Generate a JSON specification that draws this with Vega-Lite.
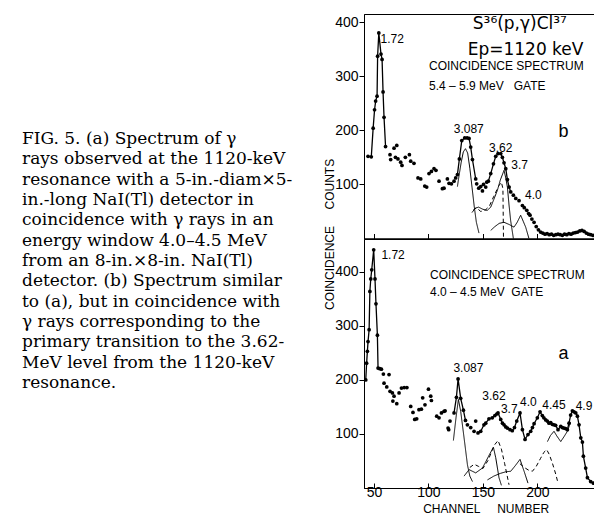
{
  "$schema": "https://vega.github.io/schema/vega-lite/v6.json",
  "padding": {"left": 22, "top": 13, "right": 0, "bottom": 0},
  "bounds": "flush",
  "spacing": 10,
  "background": "white",
  "config": {
    "view": {"stroke": "black", "strokeWidth": 1},
    "axis": {
      "grid": false,
      "domainColor": "black",
      "tickColor": "black",
      "labelColor": "black",
      "titleColor": "black",
      "labelFont": "Liberation Sans",
      "labelFontSize": 14,
      "titleFont": "Liberation Sans",
      "titleFontSize": 12,
      "titleFontWeight": "normal",
      "tickWidth": 1,
      "domainWidth": 1
    }
  },
  "datasets": {
    "caption": [
      {"line": 1, "text": "\u00a0\u00a0FIG. 5. (a) Spectrum of γ"},
      {"line": 2, "text": "rays observed at the 1120-keV"},
      {"line": 3, "text": "resonance with a 5-in.-diam×5-"},
      {"line": 4, "text": "in.-long NaI(Tl) detector in"},
      {"line": 5, "text": "coincidence with γ rays in an"},
      {"line": 6, "text": "energy window 4.0–4.5 MeV"},
      {"line": 7, "text": "from an 8-in.×8-in. NaI(Tl)"},
      {"line": 8, "text": "detector. (b) Spectrum similar"},
      {"line": 9, "text": "to (a), but in coincidence with"},
      {"line": 10, "text": "γ rays corresponding to the"},
      {"line": 11, "text": "primary transition to the 3.62-"},
      {"line": 12, "text": "MeV level from the 1120-keV"},
      {"line": 13, "text": "resonance."}
    ],
    "dots": [
      {"panel": "b", "seg": "p1", "ch": 44.5, "v": 152},
      {"panel": "b", "seg": "p1", "ch": 47.5, "v": 151},
      {"panel": "b", "seg": "p1", "ch": 49.2, "v": 204},
      {"panel": "b", "seg": "p1", "ch": 50.5, "v": 238},
      {"panel": "b", "seg": "p1", "ch": 51.5, "v": 254},
      {"panel": "b", "seg": "p1", "ch": 52.8, "v": 263},
      {"panel": "b", "seg": "p1", "ch": 53.3, "v": 337},
      {"panel": "b", "seg": "p1", "ch": 54.4, "v": 380},
      {"panel": "b", "seg": "p1", "ch": 56.4, "v": 341},
      {"panel": "b", "seg": "p1", "ch": 57.4, "v": 331},
      {"panel": "b", "seg": "p1", "ch": 58.3, "v": 271},
      {"panel": "b", "seg": "p1", "ch": 59.2, "v": 224},
      {"panel": "b", "seg": "p1", "ch": 60.6, "v": 170},
      {"panel": "b", "seg": "", "ch": 64.7, "v": 155},
      {"panel": "b", "seg": "", "ch": 65.3, "v": 146},
      {"panel": "b", "seg": "", "ch": 68.4, "v": 167},
      {"panel": "b", "seg": "", "ch": 69.7, "v": 150},
      {"panel": "b", "seg": "", "ch": 70.9, "v": 172},
      {"panel": "b", "seg": "", "ch": 72.0, "v": 147},
      {"panel": "b", "seg": "", "ch": 74.5, "v": 141},
      {"panel": "b", "seg": "", "ch": 75.7, "v": 135},
      {"panel": "b", "seg": "", "ch": 78.8, "v": 150},
      {"panel": "b", "seg": "", "ch": 82.5, "v": 155},
      {"panel": "b", "seg": "", "ch": 83.7, "v": 143},
      {"panel": "b", "seg": "", "ch": 86.7, "v": 139},
      {"panel": "b", "seg": "", "ch": 90.4, "v": 112},
      {"panel": "b", "seg": "", "ch": 92.9, "v": 110},
      {"panel": "b", "seg": "", "ch": 96.6, "v": 97},
      {"panel": "b", "seg": "", "ch": 98.4, "v": 95},
      {"panel": "b", "seg": "", "ch": 100.5, "v": 120},
      {"panel": "b", "seg": "", "ch": 102.7, "v": 124},
      {"panel": "b", "seg": "", "ch": 105.1, "v": 129},
      {"panel": "b", "seg": "", "ch": 106.9, "v": 126},
      {"panel": "b", "seg": "", "ch": 109.7, "v": 106},
      {"panel": "b", "seg": "", "ch": 112.8, "v": 92},
      {"panel": "b", "seg": "", "ch": 114.3, "v": 93},
      {"panel": "b", "seg": "", "ch": 117.4, "v": 110},
      {"panel": "b", "seg": "", "ch": 118.9, "v": 102},
      {"panel": "b", "seg": "", "ch": 121.1, "v": 101},
      {"panel": "b", "seg": "", "ch": 123.5, "v": 106},
      {"panel": "b", "seg": "", "ch": 125.0, "v": 112},
      {"panel": "b", "seg": "p2", "ch": 126.6, "v": 118},
      {"panel": "b", "seg": "p2", "ch": 128.4, "v": 147},
      {"panel": "b", "seg": "p2", "ch": 130.6, "v": 181},
      {"panel": "b", "seg": "p2", "ch": 133.3, "v": 186},
      {"panel": "b", "seg": "p2", "ch": 135.5, "v": 186},
      {"panel": "b", "seg": "p2", "ch": 137.3, "v": 185},
      {"panel": "b", "seg": "p2", "ch": 138.8, "v": 169},
      {"panel": "b", "seg": "p2", "ch": 140.4, "v": 146},
      {"panel": "b", "seg": "p2", "ch": 143.4, "v": 110},
      {"panel": "b", "seg": "", "ch": 144.3, "v": 101},
      {"panel": "b", "seg": "", "ch": 146.2, "v": 93},
      {"panel": "b", "seg": "", "ch": 148.0, "v": 96},
      {"panel": "b", "seg": "", "ch": 149.6, "v": 88},
      {"panel": "b", "seg": "", "ch": 150.5, "v": 100},
      {"panel": "b", "seg": "", "ch": 152.6, "v": 95},
      {"panel": "b", "seg": "", "ch": 153.5, "v": 104},
      {"panel": "b", "seg": "p3", "ch": 155.0, "v": 106},
      {"panel": "b", "seg": "p3", "ch": 157.2, "v": 120},
      {"panel": "b", "seg": "p3", "ch": 159.7, "v": 138},
      {"panel": "b", "seg": "p3", "ch": 161.8, "v": 152},
      {"panel": "b", "seg": "p3", "ch": 163.9, "v": 157},
      {"panel": "b", "seg": "p3", "ch": 166.4, "v": 157},
      {"panel": "b", "seg": "p3", "ch": 167.9, "v": 150},
      {"panel": "b", "seg": "p3", "ch": 169.4, "v": 140},
      {"panel": "b", "seg": "p3", "ch": 171.0, "v": 129},
      {"panel": "b", "seg": "p3", "ch": 172.5, "v": 109},
      {"panel": "b", "seg": "p3", "ch": 174.1, "v": 95},
      {"panel": "b", "seg": "p3", "ch": 175.6, "v": 86},
      {"panel": "b", "seg": "", "ch": 178.0, "v": 80},
      {"panel": "b", "seg": "", "ch": 180.2, "v": 74},
      {"panel": "b", "seg": "", "ch": 183.2, "v": 70},
      {"panel": "b", "seg": "", "ch": 186.3, "v": 61},
      {"panel": "b", "seg": "", "ch": 188.0, "v": 57},
      {"panel": "b", "seg": "", "ch": 190.3, "v": 52},
      {"panel": "b", "seg": "", "ch": 192.0, "v": 46},
      {"panel": "b", "seg": "", "ch": 193.3, "v": 43},
      {"panel": "b", "seg": "", "ch": 195.0, "v": 36},
      {"panel": "b", "seg": "", "ch": 197.0, "v": 30},
      {"panel": "b", "seg": "", "ch": 199.0, "v": 22},
      {"panel": "b", "seg": "", "ch": 201.0, "v": 16},
      {"panel": "b", "seg": "", "ch": 203.0, "v": 12},
      {"panel": "b", "seg": "", "ch": 205.0, "v": 10},
      {"panel": "b", "seg": "", "ch": 207.0, "v": 8},
      {"panel": "b", "seg": "", "ch": 209.0, "v": 9},
      {"panel": "b", "seg": "", "ch": 211.0, "v": 7},
      {"panel": "b", "seg": "", "ch": 213.0, "v": 8},
      {"panel": "b", "seg": "", "ch": 215.0, "v": 6},
      {"panel": "b", "seg": "", "ch": 217.0, "v": 7},
      {"panel": "b", "seg": "", "ch": 219.0, "v": 8},
      {"panel": "b", "seg": "", "ch": 221.0, "v": 7},
      {"panel": "b", "seg": "", "ch": 223.0, "v": 6},
      {"panel": "b", "seg": "", "ch": 225.0, "v": 8},
      {"panel": "b", "seg": "", "ch": 227.0, "v": 7},
      {"panel": "b", "seg": "", "ch": 229.0, "v": 9},
      {"panel": "b", "seg": "", "ch": 231.0, "v": 8},
      {"panel": "b", "seg": "", "ch": 233.0, "v": 10},
      {"panel": "b", "seg": "", "ch": 235.0, "v": 11},
      {"panel": "b", "seg": "", "ch": 237.0, "v": 12},
      {"panel": "b", "seg": "", "ch": 239.0, "v": 14},
      {"panel": "b", "seg": "", "ch": 241.0, "v": 15},
      {"panel": "b", "seg": "", "ch": 243.0, "v": 13},
      {"panel": "b", "seg": "", "ch": 245.0, "v": 10},
      {"panel": "b", "seg": "", "ch": 247.0, "v": 8},
      {"panel": "b", "seg": "", "ch": 249.0, "v": 7},
      {"panel": "b", "seg": "", "ch": 251.0, "v": 6},
      {"panel": "b", "seg": "", "ch": 253.0, "v": 5},

      {"panel": "a", "seg": "q1", "ch": 42.4, "v": 200},
      {"panel": "a", "seg": "q1", "ch": 43.2, "v": 231},
      {"panel": "a", "seg": "q1", "ch": 43.9, "v": 253},
      {"panel": "a", "seg": "q1", "ch": 44.5, "v": 271},
      {"panel": "a", "seg": "q1", "ch": 45.5, "v": 293},
      {"panel": "a", "seg": "q1", "ch": 46.2, "v": 364},
      {"panel": "a", "seg": "q1", "ch": 47.0, "v": 387},
      {"panel": "a", "seg": "q1", "ch": 47.9, "v": 404},
      {"panel": "a", "seg": "q1", "ch": 49.7, "v": 441},
      {"panel": "a", "seg": "q1", "ch": 50.9, "v": 387},
      {"panel": "a", "seg": "q1", "ch": 51.8, "v": 341},
      {"panel": "a", "seg": "q1", "ch": 53.1, "v": 283},
      {"panel": "a", "seg": "q1", "ch": 53.7, "v": 222},
      {"panel": "a", "seg": "q1", "ch": 55.3, "v": 221},
      {"panel": "a", "seg": "q1", "ch": 56.8, "v": 220},
      {"panel": "a", "seg": "", "ch": 58.6, "v": 211},
      {"panel": "a", "seg": "", "ch": 59.2, "v": 194},
      {"panel": "a", "seg": "", "ch": 61.7, "v": 187},
      {"panel": "a", "seg": "", "ch": 63.8, "v": 210},
      {"panel": "a", "seg": "", "ch": 64.7, "v": 179},
      {"panel": "a", "seg": "", "ch": 66.9, "v": 176},
      {"panel": "a", "seg": "", "ch": 67.3, "v": 161},
      {"panel": "a", "seg": "", "ch": 68.4, "v": 170},
      {"panel": "a", "seg": "", "ch": 70.9, "v": 156},
      {"panel": "a", "seg": "", "ch": 73.0, "v": 176},
      {"panel": "a", "seg": "", "ch": 75.2, "v": 185},
      {"panel": "a", "seg": "", "ch": 77.7, "v": 186},
      {"panel": "a", "seg": "", "ch": 80.2, "v": 186},
      {"panel": "a", "seg": "", "ch": 83.7, "v": 151},
      {"panel": "a", "seg": "", "ch": 85.8, "v": 140},
      {"panel": "a", "seg": "", "ch": 87.4, "v": 127},
      {"panel": "a", "seg": "", "ch": 89.2, "v": 128},
      {"panel": "a", "seg": "", "ch": 91.3, "v": 145},
      {"panel": "a", "seg": "", "ch": 93.5, "v": 146},
      {"panel": "a", "seg": "", "ch": 94.7, "v": 167},
      {"panel": "a", "seg": "", "ch": 96.8, "v": 154},
      {"panel": "a", "seg": "", "ch": 100.0, "v": 183},
      {"panel": "a", "seg": "", "ch": 102.1, "v": 170},
      {"panel": "a", "seg": "", "ch": 102.7, "v": 162},
      {"panel": "a", "seg": "", "ch": 107.6, "v": 133},
      {"panel": "a", "seg": "", "ch": 109.7, "v": 130},
      {"panel": "a", "seg": "", "ch": 111.9, "v": 139},
      {"panel": "a", "seg": "", "ch": 114.3, "v": 142},
      {"panel": "a", "seg": "", "ch": 115.3, "v": 143},
      {"panel": "a", "seg": "", "ch": 118.0, "v": 111},
      {"panel": "a", "seg": "", "ch": 118.6, "v": 108},
      {"panel": "a", "seg": "", "ch": 119.8, "v": 124},
      {"panel": "a", "seg": "q2", "ch": 123.5, "v": 139},
      {"panel": "a", "seg": "q2", "ch": 125.7, "v": 168},
      {"panel": "a", "seg": "q2", "ch": 127.2, "v": 202},
      {"panel": "a", "seg": "q2", "ch": 129.6, "v": 166},
      {"panel": "a", "seg": "q2", "ch": 132.1, "v": 144},
      {"panel": "a", "seg": "q2", "ch": 134.0, "v": 125},
      {"panel": "a", "seg": "", "ch": 135.8, "v": 117},
      {"panel": "a", "seg": "", "ch": 138.8, "v": 112},
      {"panel": "a", "seg": "", "ch": 141.9, "v": 105},
      {"panel": "a", "seg": "", "ch": 143.4, "v": 124},
      {"panel": "a", "seg": "q3", "ch": 145.5, "v": 102},
      {"panel": "a", "seg": "q3", "ch": 148.0, "v": 105},
      {"panel": "a", "seg": "q3", "ch": 151.0, "v": 117},
      {"panel": "a", "seg": "q3", "ch": 152.6, "v": 120},
      {"panel": "a", "seg": "q3", "ch": 155.6, "v": 128},
      {"panel": "a", "seg": "q3", "ch": 158.6, "v": 130},
      {"panel": "a", "seg": "q3", "ch": 161.0, "v": 134},
      {"panel": "a", "seg": "q3", "ch": 162.7, "v": 137},
      {"panel": "a", "seg": "q3", "ch": 163.9, "v": 139},
      {"panel": "a", "seg": "q3", "ch": 166.4, "v": 127},
      {"panel": "a", "seg": "q3", "ch": 168.0, "v": 120},
      {"panel": "a", "seg": "q3", "ch": 169.4, "v": 117},
      {"panel": "a", "seg": "q3", "ch": 171.0, "v": 113},
      {"panel": "a", "seg": "q3", "ch": 172.5, "v": 111},
      {"panel": "a", "seg": "q3", "ch": 174.9, "v": 108},
      {"panel": "a", "seg": "q3", "ch": 177.0, "v": 106},
      {"panel": "a", "seg": "q3", "ch": 179.0, "v": 112},
      {"panel": "a", "seg": "q3", "ch": 181.1, "v": 124},
      {"panel": "a", "seg": "q3", "ch": 184.1, "v": 139},
      {"panel": "a", "seg": "q3", "ch": 186.3, "v": 108},
      {"panel": "a", "seg": "q3", "ch": 188.7, "v": 90},
      {"panel": "a", "seg": "q3", "ch": 191.4, "v": 99},
      {"panel": "a", "seg": "q3", "ch": 193.9, "v": 105},
      {"panel": "a", "seg": "q3", "ch": 195.5, "v": 112},
      {"panel": "a", "seg": "q3", "ch": 197.0, "v": 119},
      {"panel": "a", "seg": "q3", "ch": 200.0, "v": 130},
      {"panel": "a", "seg": "q3", "ch": 202.5, "v": 141},
      {"panel": "a", "seg": "q3", "ch": 204.6, "v": 134},
      {"panel": "a", "seg": "q3", "ch": 206.0, "v": 130},
      {"panel": "a", "seg": "q3", "ch": 207.7, "v": 126},
      {"panel": "a", "seg": "q3", "ch": 209.2, "v": 124},
      {"panel": "a", "seg": "q3", "ch": 210.7, "v": 120},
      {"panel": "a", "seg": "q3", "ch": 212.3, "v": 121},
      {"panel": "a", "seg": "q3", "ch": 213.8, "v": 118},
      {"panel": "a", "seg": "q3", "ch": 215.3, "v": 117},
      {"panel": "a", "seg": "q3", "ch": 216.8, "v": 116},
      {"panel": "a", "seg": "q3", "ch": 219.0, "v": 108},
      {"panel": "a", "seg": "q3", "ch": 221.5, "v": 114},
      {"panel": "a", "seg": "q3", "ch": 223.0, "v": 112},
      {"panel": "a", "seg": "q3", "ch": 224.5, "v": 111},
      {"panel": "a", "seg": "q3", "ch": 226.0, "v": 110},
      {"panel": "a", "seg": "q3", "ch": 227.6, "v": 108},
      {"panel": "a", "seg": "q3", "ch": 229.1, "v": 120},
      {"panel": "a", "seg": "q3", "ch": 230.6, "v": 135},
      {"panel": "a", "seg": "q3", "ch": 232.2, "v": 143},
      {"panel": "a", "seg": "q3", "ch": 233.7, "v": 141},
      {"panel": "a", "seg": "q3", "ch": 235.3, "v": 139},
      {"panel": "a", "seg": "q3", "ch": 236.8, "v": 133},
      {"panel": "a", "seg": "q3", "ch": 238.3, "v": 117},
      {"panel": "a", "seg": "q3", "ch": 239.9, "v": 93},
      {"panel": "a", "seg": "q3", "ch": 241.4, "v": 85},
      {"panel": "a", "seg": "q3", "ch": 242.3, "v": 59},
      {"panel": "a", "seg": "q3", "ch": 244.4, "v": 37},
      {"panel": "a", "seg": "q3", "ch": 246.0, "v": 19},
      {"panel": "a", "seg": "q3", "ch": 249.0, "v": 12},
      {"panel": "a", "seg": "q3", "ch": 251.5, "v": 9}
    ],
    "curves": [
      {"panel": "b", "comp": "b1", "style": "solid", "ch": 126.6, "v": 96},
      {"panel": "b", "comp": "b1", "style": "solid", "ch": 128, "v": 115},
      {"panel": "b", "comp": "b1", "style": "solid", "ch": 130, "v": 140},
      {"panel": "b", "comp": "b1", "style": "solid", "ch": 132, "v": 160},
      {"panel": "b", "comp": "b1", "style": "solid", "ch": 134, "v": 166},
      {"panel": "b", "comp": "b1", "style": "solid", "ch": 136, "v": 158},
      {"panel": "b", "comp": "b1", "style": "solid", "ch": 138, "v": 130},
      {"panel": "b", "comp": "b1", "style": "solid", "ch": 140, "v": 95},
      {"panel": "b", "comp": "b1", "style": "solid", "ch": 142, "v": 60},
      {"panel": "b", "comp": "b1", "style": "solid", "ch": 144, "v": 30},
      {"panel": "b", "comp": "b1", "style": "solid", "ch": 146.4, "v": 10},
      {"panel": "b", "comp": "b2", "style": "solid", "ch": 140, "v": 48},
      {"panel": "b", "comp": "b2", "style": "solid", "ch": 143, "v": 56},
      {"panel": "b", "comp": "b2", "style": "solid", "ch": 146, "v": 58},
      {"panel": "b", "comp": "b2", "style": "solid", "ch": 150, "v": 54},
      {"panel": "b", "comp": "b2", "style": "solid", "ch": 154, "v": 52},
      {"panel": "b", "comp": "b2", "style": "solid", "ch": 157.2, "v": 58},
      {"panel": "b", "comp": "b2", "style": "solid", "ch": 160, "v": 72},
      {"panel": "b", "comp": "b2", "style": "solid", "ch": 163.3, "v": 89},
      {"panel": "b", "comp": "b2", "style": "solid", "ch": 166, "v": 108},
      {"panel": "b", "comp": "b2", "style": "solid", "ch": 169.4, "v": 126},
      {"panel": "b", "comp": "b2", "style": "solid", "ch": 171, "v": 112},
      {"panel": "b", "comp": "b2", "style": "solid", "ch": 172.5, "v": 95},
      {"panel": "b", "comp": "b2", "style": "solid", "ch": 174, "v": 62},
      {"panel": "b", "comp": "b2", "style": "solid", "ch": 175.5, "v": 33},
      {"panel": "b", "comp": "b2", "style": "solid", "ch": 178, "v": 0},
      {"panel": "b", "comp": "b3", "style": "dashed", "ch": 141, "v": 52},
      {"panel": "b", "comp": "b3", "style": "dashed", "ch": 144, "v": 57},
      {"panel": "b", "comp": "b3", "style": "dashed", "ch": 148, "v": 50},
      {"panel": "b", "comp": "b3", "style": "dashed", "ch": 152, "v": 52},
      {"panel": "b", "comp": "b3", "style": "dashed", "ch": 156, "v": 60},
      {"panel": "b", "comp": "b3", "style": "dashed", "ch": 160, "v": 78},
      {"panel": "b", "comp": "b3", "style": "dashed", "ch": 164.8, "v": 98},
      {"panel": "b", "comp": "b3", "style": "dashed", "ch": 167, "v": 104},
      {"panel": "b", "comp": "b3", "style": "dashed", "ch": 168.4, "v": 92},
      {"panel": "b", "comp": "b3", "style": "dashed", "ch": 168.9, "v": 0},
      {"panel": "b", "comp": "b4", "style": "solid", "ch": 157.2, "v": 15},
      {"panel": "b", "comp": "b4", "style": "solid", "ch": 161, "v": 22},
      {"panel": "b", "comp": "b4", "style": "solid", "ch": 165, "v": 28},
      {"panel": "b", "comp": "b4", "style": "solid", "ch": 169.4, "v": 30},
      {"panel": "b", "comp": "b4", "style": "solid", "ch": 174, "v": 26},
      {"panel": "b", "comp": "b4", "style": "solid", "ch": 178.6, "v": 21},
      {"panel": "b", "comp": "b4", "style": "solid", "ch": 181.5, "v": 30},
      {"panel": "b", "comp": "b4", "style": "solid", "ch": 184.7, "v": 43},
      {"panel": "b", "comp": "b4", "style": "solid", "ch": 187, "v": 32},
      {"panel": "b", "comp": "b4", "style": "solid", "ch": 189.3, "v": 21},
      {"panel": "b", "comp": "b4", "style": "solid", "ch": 192.3, "v": 0},

      {"panel": "a", "comp": "a1", "style": "solid", "ch": 122.9, "v": 88},
      {"panel": "a", "comp": "a1", "style": "solid", "ch": 125.3, "v": 130},
      {"panel": "a", "comp": "a1", "style": "solid", "ch": 127.5, "v": 164},
      {"panel": "a", "comp": "a1", "style": "solid", "ch": 129.6, "v": 142},
      {"panel": "a", "comp": "a1", "style": "solid", "ch": 132.7, "v": 93},
      {"panel": "a", "comp": "a1", "style": "solid", "ch": 135.8, "v": 43},
      {"panel": "a", "comp": "a1", "style": "solid", "ch": 138, "v": 22},
      {"panel": "a", "comp": "a1", "style": "solid", "ch": 140.4, "v": 12},
      {"panel": "a", "comp": "a2", "style": "solid", "ch": 132.7, "v": 22},
      {"panel": "a", "comp": "a2", "style": "solid", "ch": 137.3, "v": 34},
      {"panel": "a", "comp": "a2", "style": "solid", "ch": 143.4, "v": 28},
      {"panel": "a", "comp": "a2", "style": "solid", "ch": 149.6, "v": 37},
      {"panel": "a", "comp": "a2", "style": "solid", "ch": 153, "v": 50},
      {"panel": "a", "comp": "a2", "style": "solid", "ch": 156, "v": 62},
      {"panel": "a", "comp": "a2", "style": "solid", "ch": 159.7, "v": 75},
      {"panel": "a", "comp": "a2", "style": "solid", "ch": 161.8, "v": 56},
      {"panel": "a", "comp": "a2", "style": "solid", "ch": 164.8, "v": 19},
      {"panel": "a", "comp": "a2", "style": "solid", "ch": 167, "v": 5},
      {"panel": "a", "comp": "a3", "style": "dashed", "ch": 138, "v": 38},
      {"panel": "a", "comp": "a3", "style": "dashed", "ch": 142, "v": 44},
      {"panel": "a", "comp": "a3", "style": "dashed", "ch": 146, "v": 40},
      {"panel": "a", "comp": "a3", "style": "dashed", "ch": 150, "v": 36},
      {"panel": "a", "comp": "a3", "style": "dashed", "ch": 155, "v": 52},
      {"panel": "a", "comp": "a3", "style": "dashed", "ch": 160, "v": 78},
      {"panel": "a", "comp": "a3", "style": "dashed", "ch": 163.9, "v": 88},
      {"panel": "a", "comp": "a3", "style": "dashed", "ch": 167, "v": 72},
      {"panel": "a", "comp": "a3", "style": "dashed", "ch": 170, "v": 45},
      {"panel": "a", "comp": "a3", "style": "dashed", "ch": 174, "v": 6},
      {"panel": "a", "comp": "a4", "style": "solid", "ch": 154.2, "v": 15},
      {"panel": "a", "comp": "a4", "style": "solid", "ch": 160, "v": 22},
      {"panel": "a", "comp": "a4", "style": "solid", "ch": 166, "v": 27},
      {"panel": "a", "comp": "a4", "style": "solid", "ch": 171, "v": 30},
      {"panel": "a", "comp": "a4", "style": "solid", "ch": 175.6, "v": 31},
      {"panel": "a", "comp": "a4", "style": "solid", "ch": 180, "v": 42},
      {"panel": "a", "comp": "a4", "style": "solid", "ch": 184.1, "v": 53},
      {"panel": "a", "comp": "a4", "style": "solid", "ch": 188, "v": 30},
      {"panel": "a", "comp": "a4", "style": "solid", "ch": 191.4, "v": 9},
      {"panel": "a", "comp": "a5", "style": "dashed", "ch": 184, "v": 45},
      {"panel": "a", "comp": "a5", "style": "dashed", "ch": 188, "v": 38},
      {"panel": "a", "comp": "a5", "style": "dashed", "ch": 192, "v": 33},
      {"panel": "a", "comp": "a5", "style": "dashed", "ch": 195.5, "v": 31},
      {"panel": "a", "comp": "a5", "style": "dashed", "ch": 199, "v": 40},
      {"panel": "a", "comp": "a5", "style": "dashed", "ch": 203, "v": 55},
      {"panel": "a", "comp": "a5", "style": "dashed", "ch": 206, "v": 66},
      {"panel": "a", "comp": "a5", "style": "dashed", "ch": 208.6, "v": 71},
      {"panel": "a", "comp": "a5", "style": "dashed", "ch": 211, "v": 62},
      {"panel": "a", "comp": "a5", "style": "dashed", "ch": 214, "v": 45},
      {"panel": "a", "comp": "a5", "style": "dashed", "ch": 217, "v": 25},
      {"panel": "a", "comp": "a5", "style": "dashed", "ch": 219, "v": 9},
      {"panel": "a", "comp": "a6", "style": "solid", "ch": 209.3, "v": 86},
      {"panel": "a", "comp": "a6", "style": "solid", "ch": 212, "v": 97},
      {"panel": "a", "comp": "a6", "style": "solid", "ch": 215.3, "v": 105},
      {"panel": "a", "comp": "a6", "style": "solid", "ch": 218, "v": 96},
      {"panel": "a", "comp": "a6", "style": "solid", "ch": 221.5, "v": 86},
      {"panel": "a", "comp": "a6", "style": "solid", "ch": 224.5, "v": 95},
      {"panel": "a", "comp": "a6", "style": "solid", "ch": 227.6, "v": 105},
      {"panel": "a", "comp": "a6", "style": "solid", "ch": 230.6, "v": 122}
    ],
    "labels": [
      {"panel": "b", "kind": "peakL", "ch": 56, "v": 368, "text": "1.72"},
      {"panel": "b", "kind": "peak", "ch": 137, "v": 203, "text": "3.087"},
      {"panel": "b", "kind": "peak", "ch": 166.4, "v": 168, "text": "3.62"},
      {"panel": "b", "kind": "peak", "ch": 183.8, "v": 135, "text": "3.7"},
      {"panel": "b", "kind": "peak", "ch": 196.4, "v": 80, "text": "4.0"},
      {"panel": "b", "kind": "big", "ch": 140.7, "v": 397, "text": "S³⁶(p,γ)Cl³⁷"},
      {"panel": "b", "kind": "big", "ch": 136, "v": 348, "text": "Ep=1120 keV"},
      {"panel": "b", "kind": "gate", "ch": 100.5, "v": 318, "text": "COINCIDENCE SPECTRUM"},
      {"panel": "b", "kind": "gate", "ch": 100.5, "v": 281, "text": "5.4 – 5.9 MeV\u00a0\u00a0\u00a0GATE"},
      {"panel": "b", "kind": "letter", "ch": 224, "v": 196, "text": "b"},
      {"panel": "a", "kind": "peakL", "ch": 56.8, "v": 431, "text": "1.72"},
      {"panel": "a", "kind": "gate", "ch": 101.4, "v": 395, "text": "COINCIDENCE SPECTRUM"},
      {"panel": "a", "kind": "gate", "ch": 101.4, "v": 362, "text": "4.0 – 4.5 MeV\u00a0\u00a0GATE"},
      {"panel": "a", "kind": "letter", "ch": 224, "v": 249, "text": "a"},
      {"panel": "a", "kind": "peak", "ch": 136.7, "v": 222, "text": "3.087"},
      {"panel": "a", "kind": "peak", "ch": 160.2, "v": 170, "text": "3.62"},
      {"panel": "a", "kind": "peak", "ch": 174.2, "v": 146, "text": "3.7"},
      {"panel": "a", "kind": "peak", "ch": 191.8, "v": 159, "text": "4.0"},
      {"panel": "a", "kind": "peak", "ch": 215.3, "v": 154, "text": "4.45"},
      {"panel": "a", "kind": "peak", "ch": 242.9, "v": 151, "text": "4.9"}
    ]
  },
  "hconcat": [
    {
      "width": 331.3,
      "height": 474,
      "view": {"stroke": null},
      "data": {"name": "caption"},
      "mark": {"type": "text", "align": "left", "baseline": "alphabetic", "font": "DejaVu Serif", "fontSize": 17, "color": "black"},
      "encoding": {
        "x": {"datum": 0, "type": "quantitative", "scale": {"domain": [0, 1]}, "axis": null},
        "y": {"field": "line", "type": "quantitative", "scale": {"domain": [-5.394, 17.92], "reverse": true, "nice": false, "zero": false}, "axis": null},
        "text": {"field": "text"}
      }
    },
    {
      "spacing": 0,
      "bounds": "flush",
      "vconcat": [
        {
          "width": 233,
          "height": 224.5,
          "encoding": {
            "x": {"field": "ch", "type": "quantitative", "scale": {"domain": [40.8, 254.8], "nice": false, "zero": false},
                  "axis": {"values": [50, 100, 150, 200], "labels": false, "title": null, "tickSize": -5}},
            "y": {"field": "v", "type": "quantitative", "scale": {"domain": [0, 415], "nice": false},
                  "axis": {"values": [100, 200, 300, 400], "tickSize": 5, "labelPadding": 1, "title": "COUNTS",
                           "titleAngle": -90, "titleAlign": "left", "titleBaseline": "middle", "titleX": -35, "titleY": 195}}
          },
          "layer": [
            {"data": {"name": "curves"}, "transform": [{"filter": "datum.panel === 'b'"}],
             "mark": {"type": "line", "color": "black", "strokeWidth": 1},
             "encoding": {"detail": {"field": "comp"},
                          "strokeDash": {"field": "style", "type": "nominal", "scale": {"domain": ["solid", "dashed"], "range": [[1, 0], [4, 3]]}, "legend": null}}},
            {"data": {"name": "dots"}, "transform": [{"filter": "datum.panel === 'b' && datum.seg !== ''"}],
             "mark": {"type": "line", "color": "black", "strokeWidth": 1.3},
             "encoding": {"detail": {"field": "seg"}}},
            {"data": {"name": "dots"}, "transform": [{"filter": "datum.panel === 'b'"}],
             "mark": {"type": "circle", "color": "black", "opacity": 1, "size": 14}},
            {"data": {"name": "labels"}, "transform": [{"filter": "datum.panel === 'b' && datum.kind === 'peak'"}],
             "mark": {"type": "text", "align": "center", "baseline": "middle", "font": "Liberation Sans", "fontSize": 12, "color": "black"},
             "encoding": {"text": {"field": "text"}}},
            {"data": {"name": "labels"}, "transform": [{"filter": "datum.panel === 'b' && datum.kind === 'peakL'"}],
             "mark": {"type": "text", "align": "left", "baseline": "middle", "font": "Liberation Sans", "fontSize": 12, "color": "black"},
             "encoding": {"text": {"field": "text"}}},
            {"data": {"name": "labels"}, "transform": [{"filter": "datum.panel === 'b' && datum.kind === 'gate'"}],
             "mark": {"type": "text", "align": "left", "baseline": "middle", "font": "Liberation Sans", "fontSize": 12, "color": "black"},
             "encoding": {"text": {"field": "text"}}},
            {"data": {"name": "labels"}, "transform": [{"filter": "datum.panel === 'b' && datum.kind === 'big'"}],
             "mark": {"type": "text", "align": "left", "baseline": "middle", "font": "DejaVu Sans", "fontSize": 17, "color": "black"},
             "encoding": {"text": {"field": "text"}}},
            {"data": {"name": "labels"}, "transform": [{"filter": "datum.panel === 'b' && datum.kind === 'letter'"}],
             "mark": {"type": "text", "align": "center", "baseline": "middle", "font": "Liberation Sans", "fontSize": 18, "color": "black"},
             "encoding": {"text": {"field": "text"}}}
          ]
        },
        {
          "width": 233,
          "height": 249,
          "encoding": {
            "x": {"field": "ch", "type": "quantitative", "scale": {"domain": [40.8, 254.8], "nice": false, "zero": false},
                  "axis": {"values": [50, 100, 150, 200], "tickSize": -5, "labelPadding": 2, "title": "CHANNEL\u00a0\u00a0\u00a0\u00a0\u00a0NUMBER",
                           "titleX": 121.7, "titleY": 20, "titleBaseline": "middle", "titleAlign": "center"}},
            "y": {"field": "v", "type": "quantitative", "scale": {"domain": [0, 461], "nice": false},
                  "axis": {"values": [100, 200, 300, 400], "tickSize": 5, "labelPadding": 1, "title": "COINCIDENCE",
                           "titleAngle": -90, "titleAlign": "left", "titleBaseline": "middle", "titleX": -35, "titleY": 70.5}}
          },
          "layer": [
            {"data": {"name": "curves"}, "transform": [{"filter": "datum.panel === 'a'"}],
             "mark": {"type": "line", "color": "black", "strokeWidth": 1},
             "encoding": {"detail": {"field": "comp"},
                          "strokeDash": {"field": "style", "type": "nominal", "scale": {"domain": ["solid", "dashed"], "range": [[1, 0], [4, 3]]}, "legend": null}}},
            {"data": {"name": "dots"}, "transform": [{"filter": "datum.panel === 'a' && datum.seg !== ''"}],
             "mark": {"type": "line", "color": "black", "strokeWidth": 1.3},
             "encoding": {"detail": {"field": "seg"}}},
            {"data": {"name": "dots"}, "transform": [{"filter": "datum.panel === 'a'"}],
             "mark": {"type": "circle", "color": "black", "opacity": 1, "size": 14}},
            {"data": {"name": "labels"}, "transform": [{"filter": "datum.panel === 'a' && datum.kind === 'peak'"}],
             "mark": {"type": "text", "align": "center", "baseline": "middle", "font": "Liberation Sans", "fontSize": 12, "color": "black"},
             "encoding": {"text": {"field": "text"}}},
            {"data": {"name": "labels"}, "transform": [{"filter": "datum.panel === 'a' && datum.kind === 'peakL'"}],
             "mark": {"type": "text", "align": "left", "baseline": "middle", "font": "Liberation Sans", "fontSize": 12, "color": "black"},
             "encoding": {"text": {"field": "text"}}},
            {"data": {"name": "labels"}, "transform": [{"filter": "datum.panel === 'a' && datum.kind === 'gate'"}],
             "mark": {"type": "text", "align": "left", "baseline": "middle", "font": "Liberation Sans", "fontSize": 12, "color": "black"},
             "encoding": {"text": {"field": "text"}}},
            {"data": {"name": "labels"}, "transform": [{"filter": "datum.panel === 'a' && datum.kind === 'letter'"}],
             "mark": {"type": "text", "align": "center", "baseline": "middle", "font": "Liberation Sans", "fontSize": 18, "color": "black"},
             "encoding": {"text": {"field": "text"}}}
          ]
        }
      ]
    }
  ]
}
